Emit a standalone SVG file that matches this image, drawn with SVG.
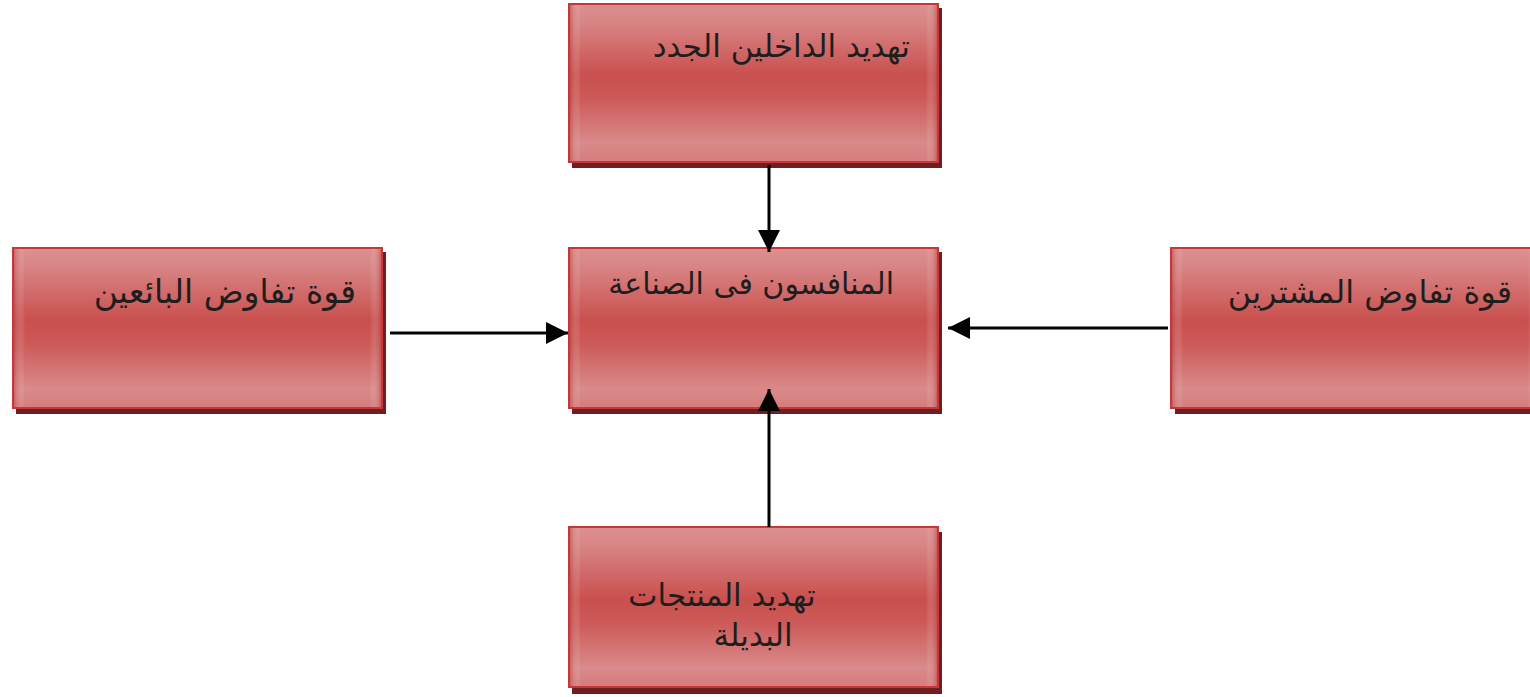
<svg xmlns="http://www.w3.org/2000/svg" width="1530" height="697" viewBox="0 0 1530 697">
<defs>
<linearGradient id="g" x1="0" y1="0" x2="0" y2="1">
<stop offset="0" stop-color="#dc9090"/>
<stop offset="0.12" stop-color="#d88484"/>
<stop offset="0.45" stop-color="#c9504e"/>
<stop offset="0.6" stop-color="#cc5a58"/>
<stop offset="0.88" stop-color="#d98a8a"/>
<stop offset="1" stop-color="#d67c7c"/>
</linearGradient>
<linearGradient id="gh" x1="0" y1="0" x2="1" y2="0">
<stop offset="0" stop-color="#b84040" stop-opacity="0.5"/>
<stop offset="0.03" stop-color="#ffffff" stop-opacity="0"/>
<stop offset="0.97" stop-color="#ffffff" stop-opacity="0"/>
<stop offset="1" stop-color="#b84040" stop-opacity="0.5"/>
</linearGradient>
<marker id="ah" viewBox="0 0 10 10" refX="10" refY="5" markerWidth="22" markerHeight="22" markerUnits="userSpaceOnUse" orient="auto">
<path d="M0,0 L10,5 L0,10 Z" fill="#000"/>
</marker>
</defs>
<style>
.shadow{fill:#6e2020;}
.box{fill:url(#g);stroke:#c8363a;stroke-width:2;}
.edge{fill:url(#gh);}
.t{font-family:"DejaVu Sans",sans-serif;font-size:31px;fill:#1e1e1e;}
.c{stroke:#000;stroke-width:3;fill:none;marker-end:url(#ah);}
</style>
<rect width="1530" height="697" fill="#fff"/>
<g id="n-top">
<rect class="shadow" x="572" y="8" width="370" height="160"/>
<rect class="box" x="569" y="4" width="369" height="158"/>
<rect class="edge" x="570" y="5" width="367" height="156"/>
<text class="t" x="910" y="57" text-anchor="end">تهديد الداخلين الجدد</text>
</g>
<g id="n-left">
<rect class="shadow" x="16" y="252" width="370" height="162"/>
<rect class="box" x="13" y="248" width="369" height="160"/>
<rect class="edge" x="14" y="249" width="367" height="158"/>
<text class="t" x="356" y="303" text-anchor="end" style="font-size:33px">قوة تفاوض البائعين</text>
</g>
<g id="n-center">
<rect class="shadow" x="572" y="252" width="370" height="162"/>
<rect class="box" x="569" y="248" width="369" height="160"/>
<rect class="edge" x="570" y="249" width="367" height="158"/>
<text class="t" x="894" y="294" text-anchor="end" style="font-size:30px">المنافسون فى الصناعة</text>
</g>
<g id="n-right">
<rect class="shadow" x="1175" y="252" width="370" height="162"/>
<rect class="box" x="1171" y="248" width="369" height="160"/>
<rect class="edge" x="1172" y="249" width="367" height="158"/>
<text class="t" x="1512" y="303" text-anchor="end" style="font-size:32px">قوة تفاوض المشترين</text>
</g>
<g id="n-bottom">
<rect class="shadow" x="572" y="532" width="370" height="162"/>
<rect class="box" x="569" y="527" width="369" height="160"/>
<rect class="edge" x="570" y="528" width="367" height="158"/>
<text class="t" x="722" y="606" text-anchor="middle">تهديد المنتجات</text>
<text class="t" x="753" y="646" text-anchor="middle">البديلة</text>
</g>
<g id="connectors">
<line class="c" x1="769" y1="165" x2="769" y2="252"/>
<line class="c" x1="390" y1="333" x2="568" y2="333"/>
<line class="c" x1="1168" y1="328" x2="948" y2="328"/>
<line class="c" x1="769" y1="527" x2="769" y2="389"/>
</g>
</svg>
